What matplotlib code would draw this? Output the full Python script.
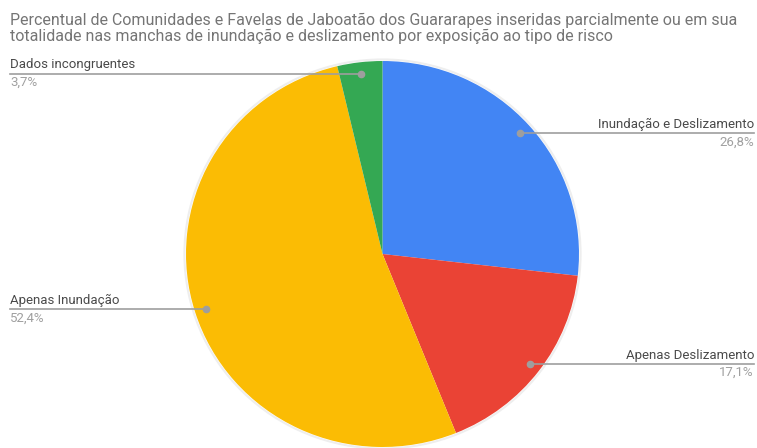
import numpy as np
import matplotlib
matplotlib.use("Agg")
import matplotlib.pyplot as plt

# dados do gráfico
categorias = ["Inundação e Deslizamento", "Apenas Deslizamento", "Apenas Inundação", "Dados incongruentes"]
percentuais = [26.8, 17.1, 52.4, 3.7]
rotulos_pct = ["26,8%", "17,1%", "52,4%", "3,7%"]
cores = ["#4285F4", "#EA4335", "#FBBC04", "#34A853"]
titulo = ("Percentual de Comunidades e Favelas de Jaboatão dos Guararapes inseridas parcialmente ou em sua\n"
          "totalidade nas manchas de inundação e deslizamento por exposição ao tipo de risco")

plt.rcParams['font.family'] = ['Roboto', 'DejaVu Sans']

W, H = 757, 448
fig = plt.figure(figsize=(W / 100, H / 100), dpi=100)
ax = fig.add_axes([0, 0, 1, 1])

# centro e raio do pie em pixels
cx, cy, rx, ry = 382.5, 254, 196.5, 193


def px(x, y):
    # pixel (a partir do topo) -> coordenadas de dados
    return (x - cx) / rx, (H - y - (H - cy)) / ry


wedges, _ = ax.pie(percentuais, colors=cores, startangle=90, counterclock=False,
                   radius=1, wedgeprops=dict(linewidth=0))
ax.add_patch(plt.Circle((0, 0), 1.008, fill=False, edgecolor="#eeeeee", lw=1.5, zorder=0))
ax.set_xlim((0 - cx) / rx, (W - cx) / rx)
ax.set_ylim(-(H - cy) / ry, cy / ry)
ax.set_aspect('auto')
ax.axis('off')

x_esq = px(10, 0)[0]
x_dir = px(754, 0)[0]

for w, cat, pct in zip(wedges, categorias, rotulos_pct):
    ang = np.deg2rad((w.theta1 + w.theta2) / 2)
    dx, dy = 0.94 * np.cos(ang), 0.94 * np.sin(ang)
    if dx > 0:
        xe, ha = x_dir, 'right'
    else:
        xe, ha = x_esq, 'left'
    ax.plot([dx, xe], [dy, dy], color="#9e9e9e", lw=1.2, clip_on=False, zorder=3)
    ax.plot([dx], [dy], 'o', color="#9e9e9e", ms=4.5, clip_on=False, zorder=4)
    ax.text(xe, dy + 0.012, cat, ha=ha, va='bottom', fontsize=9.5, color="#4a4a4a")
    ax.text(xe, dy - 0.012, pct, ha=ha, va='top', fontsize=9.5, color="#a0a0a0")

fig.text(10 / W, 1 - 13 / H, titulo, ha='left', va='top', fontsize=11.5,
         color="#757575", linespacing=1.05)

fig.savefig("out.png", dpi=100, facecolor="white")
